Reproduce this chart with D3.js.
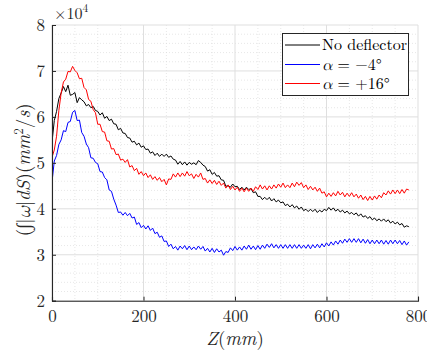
<!DOCTYPE html>
<html><head><meta charset="utf-8">
<script src="https://cdn.jsdelivr.net/npm/d3@7"></script>
<style>body{margin:0;background:#fff}svg{display:block}</style>
</head><body>
<script>
// Z sampled every 5 mm from 0 to 780
const zValues = d3.range(0, 781, 5);
const noDeflector = [5.45,5.92,6.12,6.40,6.52,6.66,6.55,6.69,6.47,6.49,6.53,6.31,6.42,6.37,6.33,6.24,6.27,6.20,6.23,6.14,6.12,6.04,6.09,5.97,6.01,5.92,5.95,5.85,5.84,5.72,5.75,5.65,5.64,5.55,5.54,5.45,5.47,5.39,5.43,5.34,5.37,5.29,5.30,5.21,5.24,5.16,5.21,5.14,5.19,5.14,5.19,5.12,5.15,5.08,5.06,4.97,5.03,4.96,5.02,4.95,5.01,4.97,5.00,4.96,5.05,5.01,4.95,4.92,4.82,4.85,4.75,4.79,4.71,4.72,4.63,4.62,4.49,4.50,4.47,4.54,4.48,4.49,4.42,4.47,4.41,4.47,4.42,4.44,4.35,4.37,4.27,4.27,4.20,4.25,4.20,4.25,4.17,4.22,4.15,4.19,4.13,4.15,4.07,4.10,4.04,4.09,4.02,4.06,3.99,4.04,3.96,3.99,3.94,3.99,3.94,3.99,3.92,3.97,3.93,3.99,3.96,4.03,3.97,4.02,3.95,3.99,3.93,3.97,3.91,3.95,3.89,3.92,3.87,3.91,3.84,3.89,3.82,3.85,3.79,3.83,3.76,3.80,3.74,3.78,3.73,3.78,3.72,3.76,3.69,3.73,3.67,3.71,3.65,3.68,3.60,3.63,3.61];
const alphaMinus4 = [4.58,5.04,5.16,5.40,5.50,5.70,5.68,5.88,5.90,6.10,6.14,5.92,5.93,5.66,5.58,5.41,5.33,5.11,5.10,5.01,4.98,4.81,4.80,4.68,4.63,4.41,4.38,4.21,4.08,3.92,3.93,3.86,3.92,3.85,3.90,3.80,3.82,3.66,3.70,3.59,3.64,3.56,3.63,3.53,3.58,3.46,3.49,3.38,3.41,3.29,3.30,3.18,3.23,3.13,3.18,3.10,3.19,3.13,3.20,3.11,3.19,3.11,3.17,3.11,3.19,3.12,3.18,3.08,3.14,3.06,3.14,3.05,3.13,3.06,3.10,2.99,3.07,3.05,3.15,3.09,3.18,3.10,3.17,3.10,3.19,3.12,3.21,3.12,3.19,3.11,3.20,3.12,3.21,3.14,3.23,3.16,3.24,3.15,3.22,3.14,3.22,3.14,3.22,3.14,3.22,3.14,3.22,3.14,3.22,3.14,3.21,3.14,3.22,3.13,3.22,3.15,3.23,3.15,3.24,3.17,3.26,3.19,3.28,3.21,3.30,3.23,3.32,3.25,3.34,3.27,3.35,3.27,3.35,3.27,3.35,3.26,3.34,3.25,3.33,3.24,3.32,3.24,3.32,3.24,3.32,3.23,3.31,3.23,3.32,3.24,3.32,3.24,3.31,3.22,3.30,3.21,3.28];
const alphaPlus16 = [5.12,5.28,5.58,6.14,6.52,6.76,6.82,6.99,6.98,7.10,7.01,6.96,6.83,6.84,6.64,6.59,6.38,6.34,6.16,6.09,5.84,5.84,5.68,5.67,5.48,5.47,5.30,5.31,5.18,5.19,5.06,5.08,5.01,5.07,4.91,4.94,4.83,4.88,4.75,4.81,4.72,4.78,4.68,4.74,4.64,4.70,4.62,4.68,4.59,4.64,4.52,4.65,4.64,4.76,4.69,4.78,4.70,4.78,4.71,4.81,4.72,4.76,4.66,4.75,4.69,4.78,4.64,4.66,4.56,4.63,4.55,4.62,4.53,4.60,4.51,4.56,4.45,4.52,4.42,4.49,4.41,4.47,4.38,4.45,4.37,4.45,4.38,4.45,4.38,4.48,4.42,4.52,4.43,4.50,4.41,4.50,4.43,4.52,4.45,4.54,4.47,4.56,4.46,4.52,4.46,4.56,4.48,4.58,4.51,4.57,4.46,4.52,4.42,4.49,4.41,4.47,4.38,4.45,4.34,4.37,4.26,4.34,4.27,4.35,4.28,4.38,4.30,4.36,4.26,4.34,4.27,4.35,4.26,4.32,4.23,4.30,4.20,4.27,4.18,4.27,4.19,4.28,4.21,4.30,4.24,4.35,4.30,4.39,4.32,4.41,4.33,4.41,4.33,4.42,4.34,4.43,4.41];
const seriesNames = ["No deflector", "α = −4°", "α = +16°"];
const seriesColors = ["#000000", "#0000ff", "#ff0000"];
const xTicks = [0, 200, 400, 600, 800];
const yTicks = [2, 3, 4, 5, 6, 7, 8];

const FONT = "'Latin Modern Roman', 'CMU Serif', 'Liberation Serif', serif";
const GREEK = "'Latin Modern Math', 'Liberation Serif', serif";
const W = 427, H = 354;
const m = {l: 52, r: 418, t: 25, b: 300.7};
const svg = d3.select("body").append("svg").attr("width", W).attr("height", H);
const x = d3.scaleLinear().domain([0, 800]).range([m.l, m.r]);
const y = d3.scaleLinear().domain([2, 8]).range([m.b, m.t]);

// minor grid
const g = svg.append("g");
g.selectAll(".mx").data(d3.range(0, 801, 50).filter(v => v % 200 !== 0)).join("line")
  .attr("x1", d => x(d)).attr("x2", d => x(d)).attr("y1", m.t).attr("y2", m.b)
  .attr("stroke", "#d6d6d6").attr("stroke-width", 0.6).attr("stroke-dasharray", "1,2");
g.selectAll(".my").data(d3.range(2, 8.001, 0.2).filter(v => Math.abs(v - Math.round(v)) > 0.01)).join("line")
  .attr("y1", d => y(d)).attr("y2", d => y(d)).attr("x1", m.l).attr("x2", m.r)
  .attr("stroke", "#d6d6d6").attr("stroke-width", 0.6).attr("stroke-dasharray", "1,2");
// major grid
g.selectAll(".gx").data(xTicks).join("line")
  .attr("x1", d => x(d)).attr("x2", d => x(d)).attr("y1", m.t).attr("y2", m.b)
  .attr("stroke", "#dfdfdf").attr("stroke-width", 1);
g.selectAll(".gy").data(yTicks).join("line")
  .attr("y1", d => y(d)).attr("y2", d => y(d)).attr("x1", m.l).attr("x2", m.r)
  .attr("stroke", "#dfdfdf").attr("stroke-width", 1);

// data lines
const allSeries = [noDeflector, alphaMinus4, alphaPlus16];
const line = d3.line().x(d => x(d[0])).y(d => y(d[1]));
svg.append("clipPath").attr("id", "c").append("rect")
  .attr("x", m.l).attr("y", m.t).attr("width", m.r - m.l).attr("height", m.b - m.t);
[0, 2, 1].forEach(i => {
  const s = allSeries[i];
  const pts = s.map((v, k) => [zValues[k], v]);
  svg.append("path").attr("d", line(pts)).attr("fill", "none")
    .attr("stroke", seriesColors[i]).attr("stroke-width", 1).attr("clip-path", "url(#c)");
});

// axes
const xa = svg.append("g").attr("transform", `translate(0,${m.b})`)
  .call(d3.axisBottom(x).tickValues(xTicks).tickSize(-4).tickPadding(9.5).tickFormat(d3.format("d")));
const ya = svg.append("g").attr("transform", `translate(${m.l},0)`)
  .call(d3.axisLeft(y).tickValues(yTicks).tickSize(-4).tickPadding(7).tickFormat(d3.format("d")));
[xa, ya].forEach(a => {
  a.select(".domain").attr("stroke", "#262626").attr("stroke-width", 1.1);
  a.selectAll(".tick line").attr("stroke", "#262626");
  a.selectAll("text").attr("fill", "#262626").style("font-family", FONT).style("font-size", "17px");
});

// exponent
const ex = svg.append("text").attr("x", 54).attr("y", 19).style("font-family", FONT).style("font-size", "16px").attr("fill", "#262626");
ex.append("tspan").text("×10");
ex.append("tspan").style("font-size", "11.5px").attr("dy", -7).text("4");

// x label
const xl = svg.append("text").attr("x", (m.l + m.r) / 2).attr("y", 345)
  .attr("text-anchor", "middle").style("font-family", FONT).style("font-size", "19px").attr("fill", "#262626");
xl.append("tspan").style("font-style", "italic").text("Z");
xl.append("tspan").text("(");
xl.append("tspan").style("font-style", "italic").text("mm");
xl.append("tspan").text(")");

// y label
const yl = svg.append("text").attr("transform", `translate(30,${(m.t + m.b) / 2 + 7}) rotate(-90)`)
  .attr("text-anchor", "middle").style("font-family", FONT).style("font-size", "19px").attr("fill", "#262626");
yl.append("tspan").text("(∫|");
yl.append("tspan").style("font-style", "italic").style("font-family", GREEK).text("ω");
yl.append("tspan").text("|");
yl.append("tspan").style("font-style", "italic").text("dS");
yl.append("tspan").text(")(");
yl.append("tspan").style("font-style", "italic").text("mm");
yl.append("tspan").style("font-size", "13px").attr("dy", -7).text("2");
yl.append("tspan").attr("dy", 7).text("/");
yl.append("tspan").style("font-style", "italic").text("s");
yl.append("tspan").text(")");

// legend
const lg = svg.append("g");
lg.append("rect").attr("x", 282.5).attr("y", 33.5).attr("width", 126).attr("height", 62)
  .attr("fill", "#fff").attr("stroke", "#262626").attr("stroke-width", 1);
const ly = [45, 64.5, 83.5];
seriesNames.forEach((n, i) => {
  lg.append("line").attr("x1", 285).attr("x2", 320).attr("y1", ly[i]).attr("y2", ly[i])
    .attr("stroke", seriesColors[i]).attr("stroke-width", 1);
  const t = lg.append("text").attr("x", 322).attr("y", ly[i] + 5)
    .style("font-family", FONT).style("font-size", "16px").attr("fill", "#000");
  if (i === 0) t.text(n);
  else {
    t.append("tspan").style("font-style", "italic").style("font-family", GREEK).text("α");
    t.append("tspan").text(n.slice(1));
  }
});
</script>
</body></html>
